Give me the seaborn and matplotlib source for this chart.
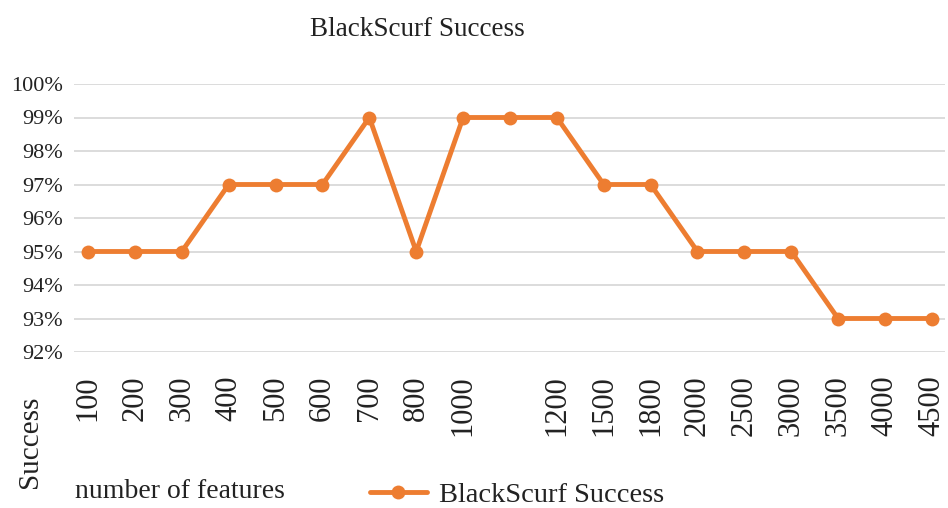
import matplotlib
matplotlib.use("Agg")
import matplotlib.pyplot as plt
import seaborn as sns
import pandas as pd
import numpy as np
from matplotlib.ticker import PercentFormatter

# Feature counts (one point carries no tick label) and success rates
features = ["100", "200", "300", "400", "500", "600", "700", "800", "1000", "",
            "1200", "1500", "1800", "2000", "2500", "3000", "3500", "4000", "4500"]
success = [0.95, 0.95, 0.95, 0.97, 0.97, 0.97, 0.99, 0.95, 0.99, 0.99,
           0.99, 0.97, 0.97, 0.95, 0.95, 0.95, 0.93, 0.93, 0.93]
y_ticks = [0.92, 0.93, 0.94, 0.95, 0.96, 0.97, 0.98, 0.99, 1.00]

series_name = "BlackScurf Success"
orange = "#ED7D31"

sns.set_theme(style="white")
plt.rcParams["font.family"] = ["Liberation Serif", "DejaVu Serif"]

df = pd.DataFrame({"pos": np.arange(len(features)), "success": success})

W, H = 948, 508
fig = plt.figure(figsize=(W / 100, H / 100), dpi=100)
ax = fig.add_axes([74 / W, 1 - 352 / H, (945 - 74) / W, (352 - 84) / H])

sns.lineplot(data=df, x="pos", y="success", ax=ax, color=orange, linewidth=3.5,
             marker="o", markersize=10, markeredgewidth=0, label=series_name,
             zorder=3)

ax.set_ylim(0.92, 1.00)
ax.set_xlim(-0.3, len(features) - 1 + 0.28)
ax.set_yticks(y_ticks)
ax.yaxis.set_major_formatter(PercentFormatter(1.0, decimals=0))
ax.set_xticks(df["pos"])
ax.set_xticklabels(features, rotation=90, fontsize=22, color="#222222")
ax.tick_params(axis="y", labelsize=16, labelcolor="#222222", length=0, pad=8)
ax.tick_params(axis="x", length=0, pad=17)
ax.grid(axis="y", color="#D9D9D9", linewidth=1.3)
ax.grid(axis="x", visible=False)
for s in ax.spines.values():
    s.set_visible(False)
ax.set_xlabel("")
ax.set_ylabel("")

ax.legend_.remove()
handles, labels = ax.get_legend_handles_labels()
fig.legend(handles, labels, loc="center", bbox_to_anchor=(517 / W, 1 - 495 / H),
           frameon=False, fontsize=20.5, handlelength=2.0, handletextpad=0.45,
           labelcolor="#222222")

fig.text(417 / W, 1 - 29 / H, series_name, ha="center", va="center",
         fontsize=19.5, color="#222222")
fig.text(75 / W, 1 - 492 / H, "number of features", ha="left", va="center",
         fontsize=20, color="#222222")
fig.text(30 / W, 1 - 442 / H, "Success", ha="center", va="center",
         rotation=90, fontsize=21, color="#222222")

fig.savefig("out.png", dpi=100, facecolor="white")
